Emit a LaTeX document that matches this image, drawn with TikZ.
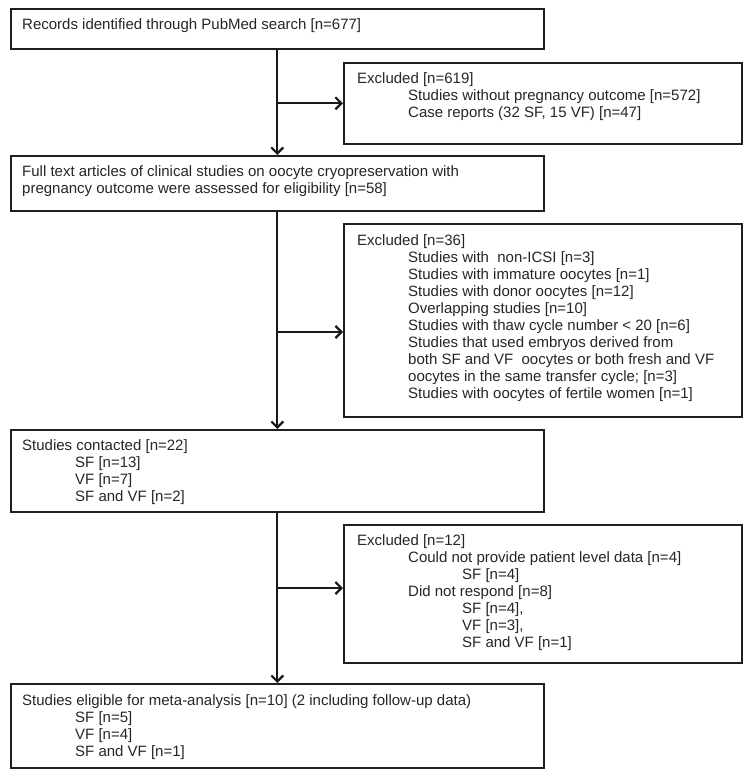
\documentclass[tikz,border=0pt]{standalone}
\usepackage{fontspec}
\setmainfont{Liberation Sans}
\usetikzlibrary{arrows.meta,calc}
\begin{document}
\begin{tikzpicture}[x=1pt,y=-1pt,
  box/.style={draw=black!88,line width=1.6pt,rectangle,inner sep=0pt,anchor=north west},
  txt/.style={anchor=north west,inner sep=0pt,align=left,font=\fontsize{15}{17}\selectfont,text=black!85},
  flow/.style={draw=black!90,line width=2.2pt,-{Straight Barb[length=6pt,width=12pt]}}]
\useasboundingbox[fill=white] (0,0) rectangle (750,776);
% boxes
\node[box,minimum width=533pt,minimum height=40pt] (b1) at (10,8) {};
\node[box,minimum width=398pt,minimum height=81pt] (b2) at (343,62) {};
\node[box,minimum width=533pt,minimum height=55pt] (b3) at (10,155) {};
\node[box,minimum width=398pt,minimum height=193pt] (b4) at (343,223) {};
\node[box,minimum width=533pt,minimum height=82pt] (b5) at (10,429) {};
\node[box,minimum width=398pt,minimum height=138pt] (b6) at (343,524) {};
\node[box,minimum width=533pt,minimum height=84pt] (b7) at (10,683) {};
% texts
\node[txt] (t1) at ($(b1.north west)+(12,9)$) {\strut Records identified through PubMed search [n=677]};
\node[txt] (t2) at ($(b2.north west)+(14,9)$) {\strut Excluded [n=619]\\
  \strut\hspace*{51pt}Studies without pregnancy outcome [n=572]\\
  \strut\hspace*{51pt}Case reports (32 SF, 15 VF) [n=47]};
\node[txt] (t3) at ($(b3.north west)+(12,9)$) {\strut Full text articles of clinical studies on oocyte cryopreservation with\\
  \strut pregnancy outcome were assessed for eligibility [n=58]};
\node[txt] (t4) at ($(b4.north west)+(14,10)$) {\strut Excluded [n=36]\\
  \strut\hspace*{51pt}Studies with \ non-ICSI [n=3]\\
  \strut\hspace*{51pt}Studies with immature oocytes [n=1]\\
  \strut\hspace*{51pt}Studies with donor oocytes [n=12]\\
  \strut\hspace*{51pt}Overlapping studies [n=10]\\
  \strut\hspace*{51pt}Studies with thaw cycle number < 20 [n=6]\\
  \strut\hspace*{51pt}Studies that used embryos derived from\\
  \strut\hspace*{51pt}both SF and VF \ oocytes or both fresh and VF\\
  \strut\hspace*{51pt}oocytes in the same transfer cycle; [n=3]\\
  \strut\hspace*{51pt}Studies with oocytes of fertile women [n=1]};
\node[txt] (t5) at ($(b5.north west)+(12,9)$) {\strut Studies contacted [n=22]\\
  \strut\hspace*{53pt}SF [n=13]\\
  \strut\hspace*{53pt}VF [n=7]\\
  \strut\hspace*{53pt}SF and VF [n=2]};
\node[txt] (t6) at ($(b6.north west)+(14,9)$) {\strut Excluded [n=12]\\
  \strut\hspace*{51pt}Could not provide patient level data [n=4]\\
  \strut\hspace*{105pt}SF [n=4]\\
  \strut\hspace*{51pt}Did not respond [n=8]\\
  \strut\hspace*{105pt}SF [n=4],\\
  \strut\hspace*{105pt}VF [n=3],\\
  \strut\hspace*{105pt}SF and VF [n=1]};
\node[txt] (t7) at ($(b7.north west)+(12,10)$) {\strut Studies eligible for meta-analysis [n=10] (2 including follow-up data)\\
  \strut\hspace*{53pt}SF [n=5]\\
  \strut\hspace*{53pt}VF [n=4]\\
  \strut\hspace*{53pt}SF and VF [n=1]};
% main flow
\draw[flow] (b1.south) -- (b3.north);
\draw[flow] (b3.south) -- (b5.north);
\draw[flow] (b5.south) -- (b7.north);
% exclusion arrows
\coordinate (j1) at (b1.south |- b2.west);
\coordinate (j2) at ($(b3.south |- b4.north)+(0,109)$);
\coordinate (j3) at ($(b5.south |- b6.north)+(0,64)$);
\draw[flow] (j1) -- (b2.west);
\draw[flow] (j2) -- (j2 -| b4.west);
\draw[flow] (j3) -- (j3 -| b6.west);
\end{tikzpicture}
\end{document}
